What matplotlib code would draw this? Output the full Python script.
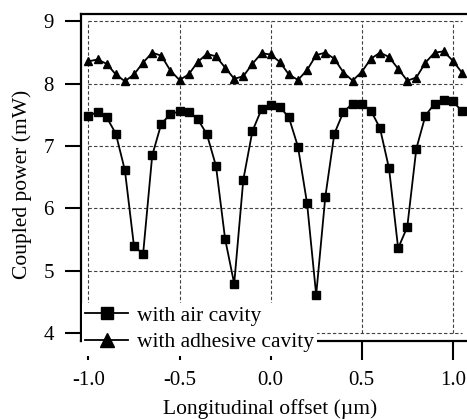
import matplotlib
matplotlib.use('Agg')
import matplotlib.pyplot as plt
import numpy as np

# ---------------- data ----------------
offset = [-1.00, -0.95, -0.90, -0.85, -0.80, -0.75, -0.70, -0.65, -0.60, -0.55,
          -0.50, -0.45, -0.40, -0.35, -0.30, -0.25, -0.20, -0.15, -0.10, -0.05,
          0.00, 0.05, 0.10, 0.15, 0.20, 0.25, 0.30, 0.35, 0.40, 0.45,
          0.50, 0.55, 0.60, 0.65, 0.70, 0.75, 0.80, 0.85, 0.90, 0.95,
          1.00, 1.05]

air_cavity = [7.48, 7.55, 7.46, 7.20, 6.61, 5.39, 5.27, 6.85, 7.36, 7.51,
              7.56, 7.55, 7.43, 7.19, 6.68, 5.51, 4.79, 6.46, 7.24, 7.59,
              7.66, 7.63, 7.46, 6.99, 6.08, 4.61, 6.18, 7.20, 7.55, 7.68,
              7.68, 7.57, 7.29, 6.64, 5.36, 5.70, 6.96, 7.49, 7.68, 7.74,
              7.72, 7.56]

adhesive_cavity = [8.36, 8.39, 8.32, 8.15, 8.04, 8.15, 8.34, 8.50, 8.45, 8.21,
                   8.06, 8.15, 8.35, 8.48, 8.44, 8.26, 8.08, 8.12, 8.32, 8.49,
                   8.47, 8.35, 8.15, 8.06, 8.22, 8.46, 8.50, 8.40, 8.18, 8.05,
                   8.19, 8.40, 8.50, 8.43, 8.24, 8.05, 8.10, 8.34, 8.50, 8.52,
                   8.37, 8.18]

x_ticks = [-1.0, -0.5, 0.0, 0.5, 1.0]
x_tick_labels = ['-1.0', '-0.5', '0.0', '0.5', '1.0']
y_ticks = [4, 5, 6, 7, 8, 9]
y_tick_labels = ['4', '5', '6', '7', '8', '9']

# ---------------- style ----------------
plt.rcParams['font.family'] = ['Liberation Serif', 'DejaVu Serif']
plt.rcParams['axes.unicode_minus'] = False

fig = plt.figure(figsize=(4.67, 4.19), dpi=100)
ax = fig.add_axes([81 / 467, 1 - 341 / 419, 386 / 467, 327 / 419])

# grid only inside the tick box (like the original)
ax.hlines(y_ticks, x_ticks[0], 1.05, colors='0.25', linewidth=0.8,
          linestyles=(0, (3, 2)), zorder=1)
ax.vlines(x_ticks, y_ticks[0], y_ticks[-1], colors='0.25', linewidth=0.8,
          linestyles=(0, (3, 2)), zorder=1)

ax.plot(offset, air_cavity, color='black', linewidth=1.3, marker='s',
        markersize=5.8, label='with air cavity', zorder=3)
ax.plot(offset, adhesive_cavity, color='black', linewidth=1.3, marker='^',
        markersize=6.3, label='with adhesive cavity', zorder=3)

ax.set_xlim(-1.041, 1.078)
ax.set_ylim(3.87, 9.12)

ax.set_xticks(x_ticks)
ax.set_xticklabels(x_tick_labels)
ax.set_yticks(y_ticks)
ax.set_yticklabels(y_tick_labels)

ax.tick_params(axis='x', direction='out', length=13.5, width=1.5,
               labelsize=15, pad=8)
ax.tick_params(axis='y', direction='out', length=11.5, width=1.5,
               labelsize=15, pad=8)

for side in ['left', 'bottom', 'top']:
    ax.spines[side].set_linewidth(1.6)
ax.spines['right'].set_visible(False)

ax.set_xlabel('Longitudinal offset (\u00b5m)', fontsize=15.5)
ax.set_ylabel('Coupled power (mW)', fontsize=15.5)
ax.xaxis.set_label_coords(0.49, -0.178)
ax.yaxis.set_label_coords(-0.127, 0.478)

leg = ax.legend(loc='lower left', bbox_to_anchor=(0.003, -0.045),
                fontsize=15.5, frameon=True, fancybox=False, framealpha=1,
                facecolor='white', edgecolor='none', markerscale=1.5,
                handlelength=2.0, handletextpad=0.4, labelspacing=0.3,
                borderpad=0.15, borderaxespad=0)
leg.set_zorder(10)

fig.savefig('out.png', dpi=100, facecolor='white')
